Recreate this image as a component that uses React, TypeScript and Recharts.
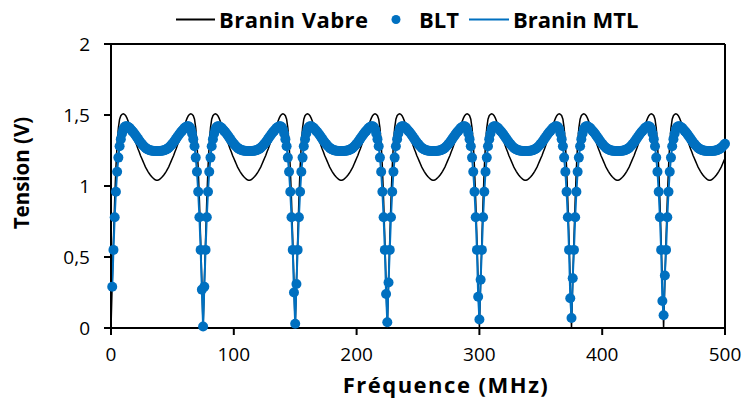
import React from 'react';
import { LineChart, Line, XAxis, YAxis, ReferenceLine } from 'recharts';

// Branin Vabre (black line), read per 75 MHz period, f = 0..500 MHz step 1
const vabreP1 = [0, 0.32, 0.62, 0.9, 1.13, 1.3, 1.41, 1.47, 1.495, 1.505, 1.508, 1.505, 1.495, 1.478, 1.456, 1.43, 1.41, 1.385, 1.36, 1.335, 1.31, 1.285, 1.26, 1.24, 1.215, 1.195, 1.175, 1.155, 1.135, 1.118, 1.103, 1.09, 1.078, 1.067, 1.058, 1.05, 1.044, 1.04, 1.04, 1.044, 1.05, 1.058, 1.067, 1.078, 1.09, 1.103, 1.118, 1.135, 1.155, 1.175, 1.195, 1.215, 1.24, 1.26, 1.285, 1.31, 1.335, 1.36, 1.385, 1.41, 1.43, 1.456, 1.478, 1.495, 1.505, 1.508, 1.505, 1.495, 1.47, 1.41, 1.3, 1.13, 0.9, 0.62, 0.32];
const vabreP2 = [0, 0.32, 0.62, 0.9, 1.13, 1.3, 1.41, 1.47, 1.495, 1.505, 1.508, 1.505, 1.495, 1.478, 1.456, 1.43, 1.41, 1.385, 1.36, 1.335, 1.31, 1.285, 1.26, 1.24, 1.215, 1.195, 1.175, 1.155, 1.135, 1.118, 1.103, 1.09, 1.078, 1.067, 1.058, 1.05, 1.044, 1.04, 1.04, 1.044, 1.05, 1.058, 1.067, 1.078, 1.09, 1.103, 1.118, 1.135, 1.155, 1.175, 1.195, 1.215, 1.24, 1.26, 1.285, 1.31, 1.335, 1.36, 1.385, 1.41, 1.43, 1.456, 1.478, 1.495, 1.505, 1.508, 1.505, 1.495, 1.47, 1.41, 1.3, 1.13, 0.9, 0.62, 0.32];
const vabreP3 = [0, 0.32, 0.62, 0.9, 1.13, 1.3, 1.41, 1.47, 1.495, 1.505, 1.508, 1.505, 1.495, 1.478, 1.456, 1.43, 1.41, 1.385, 1.36, 1.335, 1.31, 1.285, 1.26, 1.24, 1.215, 1.195, 1.175, 1.155, 1.135, 1.118, 1.103, 1.09, 1.078, 1.067, 1.058, 1.05, 1.044, 1.04, 1.04, 1.044, 1.05, 1.058, 1.067, 1.078, 1.09, 1.103, 1.118, 1.135, 1.155, 1.175, 1.195, 1.215, 1.24, 1.26, 1.285, 1.31, 1.335, 1.36, 1.385, 1.41, 1.43, 1.456, 1.478, 1.495, 1.505, 1.508, 1.505, 1.495, 1.47, 1.41, 1.3, 1.13, 0.9, 0.62, 0.32];
const vabreP4 = [0, 0.32, 0.62, 0.9, 1.13, 1.3, 1.41, 1.47, 1.495, 1.505, 1.508, 1.505, 1.495, 1.478, 1.456, 1.43, 1.41, 1.385, 1.36, 1.335, 1.31, 1.285, 1.26, 1.24, 1.215, 1.195, 1.175, 1.155, 1.135, 1.118, 1.103, 1.09, 1.078, 1.067, 1.058, 1.05, 1.044, 1.04, 1.04, 1.044, 1.05, 1.058, 1.067, 1.078, 1.09, 1.103, 1.118, 1.135, 1.155, 1.175, 1.195, 1.215, 1.24, 1.26, 1.285, 1.31, 1.335, 1.36, 1.385, 1.41, 1.43, 1.456, 1.478, 1.495, 1.505, 1.508, 1.505, 1.495, 1.47, 1.41, 1.3, 1.13, 0.9, 0.62, 0.32];
const vabreP5 = [0, 0.32, 0.62, 0.9, 1.13, 1.3, 1.41, 1.47, 1.495, 1.505, 1.508, 1.505, 1.495, 1.478, 1.456, 1.43, 1.41, 1.385, 1.36, 1.335, 1.31, 1.285, 1.26, 1.24, 1.215, 1.195, 1.175, 1.155, 1.135, 1.118, 1.103, 1.09, 1.078, 1.067, 1.058, 1.05, 1.044, 1.04, 1.04, 1.044, 1.05, 1.058, 1.067, 1.078, 1.09, 1.103, 1.118, 1.135, 1.155, 1.175, 1.195, 1.215, 1.24, 1.26, 1.285, 1.31, 1.335, 1.36, 1.385, 1.41, 1.43, 1.456, 1.478, 1.495, 1.505, 1.508, 1.505, 1.495, 1.47, 1.41, 1.3, 1.13, 0.9, 0.62, 0.32];
const vabreP6 = [0, 0.32, 0.62, 0.9, 1.13, 1.3, 1.41, 1.47, 1.495, 1.505, 1.508, 1.505, 1.495, 1.478, 1.456, 1.43, 1.41, 1.385, 1.36, 1.335, 1.31, 1.285, 1.26, 1.24, 1.215, 1.195, 1.175, 1.155, 1.135, 1.118, 1.103, 1.09, 1.078, 1.067, 1.058, 1.05, 1.044, 1.04, 1.04, 1.044, 1.05, 1.058, 1.067, 1.078, 1.09, 1.103, 1.118, 1.135, 1.155, 1.175, 1.195, 1.215, 1.24, 1.26, 1.285, 1.31, 1.335, 1.36, 1.385, 1.41, 1.43, 1.456, 1.478, 1.495, 1.505, 1.508, 1.505, 1.495, 1.47, 1.41, 1.3, 1.13, 0.9, 0.62, 0.32];
const vabreP7 = [0, 0.32, 0.62, 0.9, 1.13, 1.3, 1.41, 1.47, 1.495, 1.505, 1.508, 1.505, 1.495, 1.478, 1.456, 1.43, 1.41, 1.385, 1.36, 1.335, 1.31, 1.285, 1.26, 1.24, 1.215, 1.195, 1.175, 1.155, 1.135, 1.118, 1.103, 1.09, 1.078, 1.067, 1.058, 1.05, 1.044, 1.04, 1.04, 1.044, 1.05, 1.058, 1.067, 1.078, 1.09, 1.103, 1.118, 1.135, 1.155, 1.175, 1.195];

// BLT (blue dots), same frequency grid, first sample at 1 MHz
const bltP1 = [null, 0.29, 0.55, 0.78, 0.96, 1.1, 1.2, 1.28, 1.33, 1.37, 1.4, 1.415, 1.42, 1.42, 1.415, 1.41, 1.4, 1.39, 1.38, 1.37, 1.357, 1.345, 1.332, 1.32, 1.308, 1.297, 1.287, 1.278, 1.27, 1.263, 1.258, 1.254, 1.251, 1.249, 1.248, 1.247, 1.246, 1.246, 1.246, 1.246, 1.247, 1.248, 1.249, 1.251, 1.254, 1.258, 1.263, 1.27, 1.278, 1.287, 1.297, 1.308, 1.32, 1.332, 1.345, 1.357, 1.37, 1.38, 1.39, 1.4, 1.41, 1.415, 1.42, 1.42, 1.415, 1.4, 1.37, 1.33, 1.28, 1.2, 1.1, 0.96, 0.78, 0.55, 0.27];
const bltP2 = [0.01, 0.29, 0.55, 0.78, 0.96, 1.1, 1.2, 1.28, 1.33, 1.37, 1.4, 1.415, 1.42, 1.42, 1.415, 1.41, 1.4, 1.39, 1.38, 1.37, 1.357, 1.345, 1.332, 1.32, 1.308, 1.297, 1.287, 1.278, 1.27, 1.263, 1.258, 1.254, 1.251, 1.249, 1.248, 1.247, 1.246, 1.246, 1.246, 1.246, 1.247, 1.248, 1.249, 1.251, 1.254, 1.258, 1.263, 1.27, 1.278, 1.287, 1.297, 1.308, 1.32, 1.332, 1.345, 1.357, 1.37, 1.38, 1.39, 1.4, 1.41, 1.415, 1.42, 1.42, 1.415, 1.4, 1.37, 1.33, 1.28, 1.2, 1.1, 0.96, 0.78, 0.55, 0.25];
const bltP3 = [0.03, 0.31, 0.55, 0.78, 0.96, 1.1, 1.2, 1.28, 1.33, 1.37, 1.4, 1.415, 1.42, 1.42, 1.415, 1.41, 1.4, 1.39, 1.38, 1.37, 1.357, 1.345, 1.332, 1.32, 1.308, 1.297, 1.287, 1.278, 1.27, 1.263, 1.258, 1.254, 1.251, 1.249, 1.248, 1.247, 1.246, 1.246, 1.246, 1.246, 1.247, 1.248, 1.249, 1.251, 1.254, 1.258, 1.263, 1.27, 1.278, 1.287, 1.297, 1.308, 1.32, 1.332, 1.345, 1.357, 1.37, 1.38, 1.39, 1.4, 1.41, 1.415, 1.42, 1.42, 1.415, 1.4, 1.37, 1.33, 1.28, 1.2, 1.1, 0.96, 0.78, 0.55, 0.24];
const bltP4 = [0.04, 0.32, 0.55, 0.78, 0.96, 1.1, 1.2, 1.28, 1.33, 1.37, 1.4, 1.415, 1.42, 1.42, 1.415, 1.41, 1.4, 1.39, 1.38, 1.37, 1.357, 1.345, 1.332, 1.32, 1.308, 1.297, 1.287, 1.278, 1.27, 1.263, 1.258, 1.254, 1.251, 1.249, 1.248, 1.247, 1.246, 1.246, 1.246, 1.246, 1.247, 1.248, 1.249, 1.251, 1.254, 1.258, 1.263, 1.27, 1.278, 1.287, 1.297, 1.308, 1.32, 1.332, 1.345, 1.357, 1.37, 1.38, 1.39, 1.4, 1.41, 1.415, 1.42, 1.42, 1.415, 1.4, 1.37, 1.33, 1.28, 1.2, 1.1, 0.96, 0.78, 0.55, 0.22];
const bltP5 = [0.06, 0.34, 0.55, 0.78, 0.96, 1.1, 1.2, 1.28, 1.33, 1.37, 1.4, 1.415, 1.42, 1.42, 1.415, 1.41, 1.4, 1.39, 1.38, 1.37, 1.357, 1.345, 1.332, 1.32, 1.308, 1.297, 1.287, 1.278, 1.27, 1.263, 1.258, 1.254, 1.251, 1.249, 1.248, 1.247, 1.246, 1.246, 1.246, 1.246, 1.247, 1.248, 1.249, 1.251, 1.254, 1.258, 1.263, 1.27, 1.278, 1.287, 1.297, 1.308, 1.32, 1.332, 1.345, 1.357, 1.37, 1.38, 1.39, 1.4, 1.41, 1.415, 1.42, 1.42, 1.415, 1.4, 1.37, 1.33, 1.28, 1.2, 1.1, 0.96, 0.78, 0.55, 0.21];
const bltP6 = [0.07, 0.35, 0.55, 0.78, 0.96, 1.1, 1.2, 1.28, 1.33, 1.37, 1.4, 1.415, 1.42, 1.42, 1.415, 1.41, 1.4, 1.39, 1.38, 1.37, 1.357, 1.345, 1.332, 1.32, 1.308, 1.297, 1.287, 1.278, 1.27, 1.263, 1.258, 1.254, 1.251, 1.249, 1.248, 1.247, 1.246, 1.246, 1.246, 1.246, 1.247, 1.248, 1.249, 1.251, 1.254, 1.258, 1.263, 1.27, 1.278, 1.287, 1.297, 1.308, 1.32, 1.332, 1.345, 1.357, 1.37, 1.38, 1.39, 1.4, 1.41, 1.415, 1.42, 1.42, 1.415, 1.4, 1.37, 1.33, 1.28, 1.2, 1.1, 0.96, 0.78, 0.55, 0.19];
const bltP7 = [0.09, 0.37, 0.55, 0.78, 0.96, 1.1, 1.2, 1.28, 1.33, 1.37, 1.4, 1.415, 1.42, 1.42, 1.415, 1.41, 1.4, 1.39, 1.38, 1.37, 1.357, 1.345, 1.332, 1.32, 1.308, 1.297, 1.287, 1.278, 1.27, 1.263, 1.258, 1.254, 1.251, 1.249, 1.248, 1.247, 1.246, 1.246, 1.246, 1.246, 1.247, 1.248, 1.249, 1.251, 1.254, 1.258, 1.263, 1.27, 1.278, 1.287, 1.297];

const xTicks = [0, 100, 200, 300, 400, 500];
const yTicks = [0, 0.5, 1, 1.5, 2];
const seriesNames = ['Branin Vabre', 'BLT', 'Branin MTL'];

const vabre = [...vabreP1, ...vabreP2, ...vabreP3, ...vabreP4, ...vabreP5, ...vabreP6, ...vabreP7];
const blt = [...bltP1, ...bltP2, ...bltP3, ...bltP4, ...bltP5, ...bltP6, ...bltP7];
const mtl = blt;

const data = vabre.map((v, i) => ({ f: i, vabre: v, blt: blt[i], mtl: mtl[i] }));

const FONT = '"Open Sans", Lato, sans-serif';
const BLUE = '#0070C0';

const LegendOverlay = () => (
  <svg width={742} height={40} style={{ position: 'absolute', left: 0, top: 0 }}>
    <g fontFamily={FONT} fontWeight={700} fontSize={22} fill="#000">
      <line x1={176} x2={215} y1={19.5} y2={19.5} stroke="#000" strokeWidth={2} />
      <text x={219} y={27.5} textLength={149} lengthAdjust="spacing">{seriesNames[0]}</text>
      <circle cx={396} cy={19.5} r={4.5} fill={BLUE} />
      <text x={419} y={27.5}>{seriesNames[1]}</text>
      <line x1={469} x2={509} y1={19.5} y2={19.5} stroke={BLUE} strokeWidth={2} />
      <text x={513} y={27.5}>{seriesNames[2]}</text>
    </g>
  </svg>
);

export default function App() {
  return (
    <div style={{ position: 'fixed', left: 0, top: 0, width: 742, height: 400, background: '#fff' }}>
      <LineChart width={742} height={400} data={data} margin={{ top: 44, right: 17, bottom: 42, left: 51 }}>
        <XAxis
          type="number"
          dataKey="f"
          domain={[0, 500]}
          ticks={xTicks}
          height={30}
          stroke="#000"
          strokeWidth={2}
          tickSize={7}
          tickMargin={13}
          tick={{ fill: '#000', fontSize: 19, fontFamily: FONT }}
          label={{ value: 'Fréquence (MHz)', position: 'center', dx: 28, dy: 42, fill: '#000', fontSize: 22, fontWeight: 700, fontFamily: FONT, letterSpacing: 1.5 }}
        />
        <YAxis
          type="number"
          domain={[0, 2]}
          ticks={yTicks}
          width={60}
          stroke="#000"
          strokeWidth={2}
          tickSize={7}
          tickMargin={14}
          tickFormatter={(v: number) => String(v).replace('.', ',')}
          tick={{ fill: '#000', fontSize: 19, fontFamily: FONT }}
          label={{ value: 'Tension (V)', angle: -90, position: 'center', dx: -59, dy: -13, fill: '#000', fontSize: 20.5, fontWeight: 700, fontFamily: FONT }}
        />
        <ReferenceLine y={2} stroke="#000" strokeWidth={2} />
        <ReferenceLine x={500} stroke="#000" strokeWidth={2} />
        <Line dataKey="vabre" name={seriesNames[0]} stroke="#000" strokeWidth={1.5} dot={false} isAnimationActive={false} />
        <Line dataKey="mtl" name={seriesNames[2]} stroke={BLUE} strokeWidth={2} dot={false} isAnimationActive={false} />
        <Line dataKey="blt" name={seriesNames[1]} stroke="none" dot={{ r: 5, fill: BLUE, stroke: BLUE, strokeWidth: 0 }} isAnimationActive={false} />
      </LineChart>
      <LegendOverlay />
    </div>
  );
}
